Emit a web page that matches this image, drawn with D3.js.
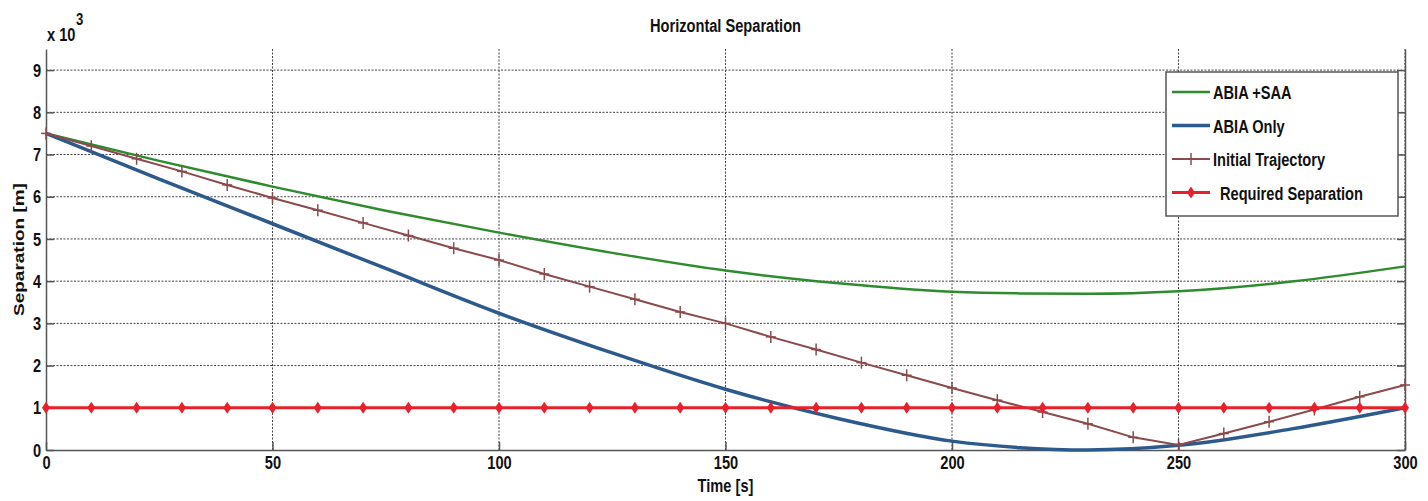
<!DOCTYPE html>
<html>
<head>
<meta charset="utf-8">
<script src="https://cdn.jsdelivr.net/npm/d3@7"></script>
<style>
  body { margin: 0; background: #fff; }
  svg { display: block; }
  text { font-family: "Liberation Sans", Arial, sans-serif; font-weight: bold; fill: #111; }
  .grid line { stroke: #444; stroke-width: 1; stroke-dasharray: 2,1.5; }
  .axis path, .axis line { stroke: #555; stroke-width: 1.5; }
</style>
</head>
<body>
<svg width="1428" height="501"></svg>
<script>
// time samples for the smooth curves [s]
const tCurve = [0, 25, 50, 75, 100, 125, 150, 175, 200, 215, 230, 250, 275, 300];
// ABIA + SAA separation [m]
const abiaSaa = [7500, 6850, 6240, 5670, 5150, 4670, 4250, 3950, 3750, 3710, 3700, 3760, 3990, 4350];
// ABIA only separation [m]
const abiaOnly = [7500, 6420, 5360, 4300, 3240, 2300, 1440, 740, 210, 55, 0, 110, 500, 1000];
// initial trajectory, sampled every 10 s [m]
const tTraj = d3.range(0, 301, 10);
const initialTraj = [7500, 7200, 6900, 6600, 6280, 5970, 5680, 5380, 5080, 4780, 4500,
  4170, 3870, 3570, 3270, 3000, 2680, 2380, 2070, 1770, 1470, 1180, 900, 620, 300, 120,
  390, 670, 960, 1260, 1540];
// required separation [m]
const requiredSep = tTraj.map(() => 1000);

const series = [
  { name: "ABIA +SAA", t: tCurve, v: abiaSaa, color: "#2e8b2e", width: 2.5, marker: null, curve: d3.curveMonotoneX },
  { name: "ABIA Only", t: tCurve, v: abiaOnly, color: "#2c5a8c", width: 3.5, marker: null, curve: d3.curveMonotoneX },
  { name: "Initial Trajectory", t: tTraj, v: initialTraj, color: "#8a4a4e", width: 2, marker: "plus", curve: d3.curveLinear },
  { name: "Required Separation", t: tTraj, v: requiredSep, color: "#e8202a", width: 3, marker: "diamond", curve: d3.curveLinear }
];

const svg = d3.select("svg");
const mLeft = 46, mRight = 1405, mTop = 49, mBottom = 450;
const FS = 19, SX = 0.77; // font size and horizontal squeeze of the source image

const x = d3.scaleLinear().domain([0, 300]).range([mLeft, mRight]);
const y = d3.scaleLinear().domain([0, 9500]).range([mBottom, mTop]);
const xTicks = [0, 50, 100, 150, 200, 250, 300];
const yTicks = d3.range(0, 10000, 1000);

function label(px, py, str, size, anchor) {
  return svg.append("text")
    .attr("transform", `translate(${px},${py}) scale(${SX},1)`)
    .attr("text-anchor", anchor || "start")
    .attr("font-size", size || FS).text(str);
}

// grid
const grid = svg.append("g").attr("class", "grid");
grid.selectAll(".gx").data(xTicks.slice(1)).enter().append("line")
  .attr("x1", d => x(d)).attr("x2", d => x(d)).attr("y1", mTop).attr("y2", mBottom);
grid.selectAll(".gy").data(yTicks.slice(1)).enter().append("line")
  .attr("x1", mLeft).attr("x2", mRight).attr("y1", d => y(d)).attr("y2", d => y(d));

// axes (ticks inside, like matlab)
svg.append("g").attr("class", "axis")
  .attr("transform", `translate(0,${mBottom})`)
  .call(d3.axisBottom(x).tickValues(xTicks).tickSize(-8).tickSizeOuter(0).tickPadding(6))
  .call(g => g.selectAll("text").attr("font-size", FS).attr("transform", `scale(${SX},1)`));
svg.append("g").attr("class", "axis")
  .attr("transform", `translate(${mLeft},0)`)
  .call(d3.axisLeft(y).tickValues(yTicks).tickFormat(d => d / 1000).tickSize(-8).tickSizeOuter(0))
  .call(g => g.selectAll("text").attr("font-size", FS).attr("x", -5 / SX).attr("transform", `scale(${SX},1)`));
svg.append("g").attr("class", "axis")
  .attr("transform", `translate(${mRight},0)`)
  .call(d3.axisRight(y).tickValues(yTicks).tickSize(-8).tickSizeOuter(0).tickFormat(""));

// lines
const plot = svg.append("g");
function drawMarker(g, type, cx, cy, color) {
  if (type === "plus") {
    g.append("line").attr("x1", cx).attr("x2", cx).attr("y1", cy - 6).attr("y2", cy + 6)
      .attr("stroke", color).attr("stroke-width", 1.5);
    g.append("line").attr("x1", cx - 5).attr("x2", cx + 5).attr("y1", cy).attr("y2", cy)
      .attr("stroke", color).attr("stroke-width", 1.5);
  } else if (type === "diamond") {
    g.append("path").attr("d", `M${cx},${cy - 6}L${cx + 4},${cy}L${cx},${cy + 6}L${cx - 4},${cy}Z`)
      .attr("fill", color);
  }
}
series.forEach(s => {
  const pts = s.t.map((t, i) => [t, s.v[i]]);
  plot.append("path").datum(pts)
    .attr("fill", "none").attr("stroke", s.color).attr("stroke-width", s.width)
    .attr("d", d3.line().x(d => x(d[0])).y(d => y(d[1])).curve(s.curve));
  if (s.marker) pts.forEach(p => drawMarker(plot, s.marker, x(p[0]), y(p[1]), s.color));
});

// legend
const lg = svg.append("g");
lg.append("rect").attr("x", 1166).attr("y", 72).attr("width", 232).attr("height", 144)
  .attr("fill", "#fff").attr("stroke", "#555").attr("stroke-width", 1.5);
series.forEach((s, i) => {
  const ly = 92 + i * 33.5;
  lg.append("line").attr("x1", 1172).attr("x2", 1210).attr("y1", ly).attr("y2", ly)
    .attr("stroke", s.color).attr("stroke-width", s.width);
  if (s.marker) drawMarker(lg, s.marker, 1191, ly, s.color);
  label(i === 3 ? 1220 : 1213, ly + 7, s.name);
});

// titles
label((mLeft + mRight) / 2, 32, "Horizontal Separation", FS, "middle");
label((mLeft + mRight) / 2, 492, "Time [s]", FS, "middle");
svg.append("text")
  .attr("transform", `translate(24,${(mTop + mBottom) / 2}) scale(${SX},1) rotate(-90)`)
  .attr("text-anchor", "middle").attr("font-size", FS).text("Separation [m]");
label(47, 41, "x 10");
label(76, 25, "3", 17);
</script>
</body>
</html>
